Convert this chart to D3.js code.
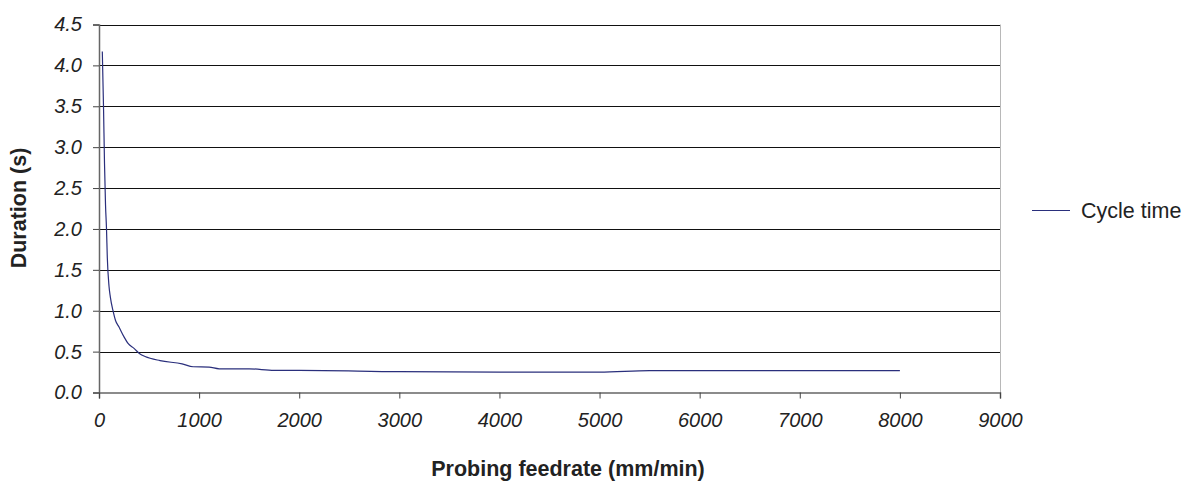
<!DOCTYPE html>
<html>
    <head>
        <meta charset="utf-8" />
        <script src="https://d3js.org/d3.v7.min.js"></script>
        <style type="text/css">
            body {
                margin: 0;
                background: #fff;
            }
            svg#mainSvg {
                width: 1189px;
                height: 481px;
                display: block;
                font-family: "Liberation Sans", Arial, sans-serif;
            }
        </style>
    </head>

    <body>
        <svg id="mainSvg"></svg>

        <script type="text/javascript">
            // Values
            const feedrate = [
                33, 45, 55, 65, 75, 83, 100, 113, 140, 165, 200, 250, 290,
                350, 410, 460, 610, 830, 940, 1100, 1200, 1500, 1750, 2000,
                3000, 4000, 5000, 5500, 6000, 7000, 8000,
            ];
            const duration = [
                4.17, 3.5, 2.8, 2.3, 2.0, 1.65, 1.3, 1.17, 1.0, 0.88, 0.8,
                0.68, 0.6, 0.54, 0.47, 0.44, 0.39, 0.35, 0.315, 0.31, 0.29,
                0.29, 0.27, 0.27, 0.255, 0.25, 0.25, 0.267, 0.267, 0.267,
                0.267,
            ];
            const xTicks = [0, 1000, 2000, 3000, 4000, 5000, 6000, 7000, 8000, 9000];
            const yTicks = [0, 0.5, 1.0, 1.5, 2.0, 2.5, 3.0, 3.5, 4.0, 4.5];
            const seriesName = "Cycle time";
        </script>

        <script type="text/javascript">
            const svg = d3.select("#mainSvg");
            const plotL = 99,
                plotR = 1000,
                plotT = 24.5,
                plotB = 392.5;

            const x = d3.scaleLinear().domain([0, 9000]).range([plotL, plotR]);
            const y = d3.scaleLinear().domain([0, 4.5]).range([plotB, plotT]);

            // Horizontal gridlines
            svg.append("g")
                .selectAll("line")
                .data(yTicks.filter((d) => d > 0))
                .enter()
                .append("line")
                .attr("x1", plotL)
                .attr("x2", plotR)
                .attr("y1", (d) => Math.round(y(d)) + 0.5)
                .attr("y2", (d) => Math.round(y(d)) + 0.5)
                .style("stroke", "#111")
                .style("stroke-width", 1);

            // Right border
            svg.append("line")
                .attr("x1", plotR + 0.5)
                .attr("x2", plotR + 0.5)
                .attr("y1", plotT)
                .attr("y2", plotB)
                .style("stroke", "#b8b8b8");

            // Y axis
            const yAxis = svg
                .append("g")
                .attr("transform", "translate(" + plotL + ",0)")
                .call(
                    d3
                        .axisLeft(y)
                        .tickValues(yTicks)
                        .tickFormat(d3.format(".1f"))
                        .tickSize(6)
                        .tickPadding(11)
                );

            // X axis
            const xAxis = svg
                .append("g")
                .attr("transform", "translate(0," + plotB + ")")
                .call(
                    d3
                        .axisBottom(x)
                        .tickValues(xTicks)
                        .tickFormat(d3.format("d"))
                        .tickSize(6)
                        .tickPadding(14)
                );

            [yAxis, xAxis].forEach((a) => {
                a.select(".domain").style("stroke", "#666").style("stroke-width", 1.5);
                a.selectAll(".tick line").style("stroke", "#444");
                a.selectAll("text")
                    .style("font-family", "Liberation Sans, Arial, sans-serif")
                    .style("font-size", "20px")
                    .style("font-style", "italic")
                    .style("fill", "#222");
            });

            // The curve
            const pts = feedrate.map((f, i) => [f, duration[i]]);
            svg.append("path")
                .datum(pts)
                .attr(
                    "d",
                    d3
                        .line()
                        .x((d) => x(d[0]))
                        .y((d) => y(d[1]))
                        .curve(d3.curveMonotoneX)
                )
                .style("fill", "none")
                .style("stroke", "#2a2f7c")
                .style("stroke-width", 1.2);

            // Axis titles
            svg.append("text")
                .attr("x", 568)
                .attr("y", 476)
                .attr("text-anchor", "middle")
                .style("font-size", "21.5px")
                .style("font-weight", "bold")
                .style("fill", "#222")
                .text("Probing feedrate (mm/min)");

            svg.append("text")
                .attr("transform", "translate(26,208) rotate(-90)")
                .attr("text-anchor", "middle")
                .style("font-size", "21.5px")
                .style("font-weight", "bold")
                .style("fill", "#222")
                .text("Duration (s)");

            // Legend
            const lg = svg.append("g").attr("transform", "translate(1032,210)");
            lg.append("line")
                .attr("x1", 0)
                .attr("x2", 38)
                .attr("y1", 0.5)
                .attr("y2", 0.5)
                .style("stroke", "#2a2f7c")
                .style("stroke-width", 1.2);
            lg.append("text")
                .attr("x", 49)
                .attr("y", 8)
                .style("font-size", "21.5px")
                .style("fill", "#222")
                .text(seriesName);
        </script>
    </body>
</html>
